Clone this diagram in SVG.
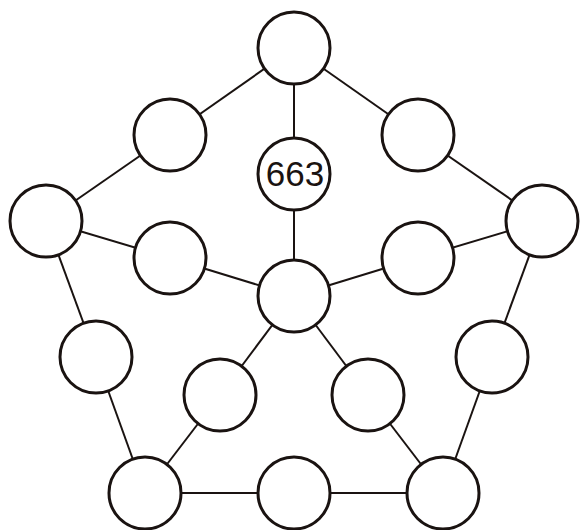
<svg xmlns="http://www.w3.org/2000/svg" width="580" height="530" viewBox="0 0 580 530">
<style>
.n circle{fill:#fff;stroke:#1a1311;stroke-width:3}
#edges line{stroke:#1a1311;stroke-width:2}
text{font-family:"Liberation Sans",Arial,sans-serif;font-size:35px;fill:#1a1311;text-anchor:middle}
</style>
<rect width="580" height="530" fill="#fff"/>
<g id="edges">
<line x1="294" y1="48" x2="170" y2="135"/>
<line x1="294" y1="48" x2="418" y2="135"/>
<line x1="294" y1="48" x2="294" y2="174"/>
<line x1="170" y1="135" x2="46" y2="221"/>
<line x1="418" y1="135" x2="542" y2="221"/>
<line x1="46" y1="221" x2="170" y2="258"/>
<line x1="542" y1="221" x2="418" y2="258"/>
<line x1="170" y1="258" x2="294" y2="296"/>
<line x1="418" y1="258" x2="294" y2="296"/>
<line x1="294" y1="174" x2="294" y2="296"/>
<line x1="46" y1="221" x2="96" y2="357"/>
<line x1="542" y1="221" x2="492" y2="357"/>
<line x1="294" y1="296" x2="220" y2="395"/>
<line x1="294" y1="296" x2="368" y2="395"/>
<line x1="96" y1="357" x2="145" y2="493"/>
<line x1="492" y1="357" x2="443" y2="493"/>
<line x1="220" y1="395" x2="145" y2="493"/>
<line x1="368" y1="395" x2="443" y2="493"/>
<line x1="145" y1="493" x2="294" y2="493"/>
<line x1="294" y1="493" x2="443" y2="493"/>
</g>
<g id="n-top" class="n"><circle cx="294" cy="48" r="36"/></g>
<g id="n-ul" class="n"><circle cx="170" cy="135" r="36"/></g>
<g id="n-ur" class="n"><circle cx="418" cy="135" r="36"/></g>
<g id="n-663" class="n"><circle cx="294" cy="174" r="36"/><text x="295" y="186">663</text></g>
<g id="n-l" class="n"><circle cx="46" cy="221" r="36"/></g>
<g id="n-r" class="n"><circle cx="542" cy="221" r="36"/></g>
<g id="n-il" class="n"><circle cx="170" cy="258" r="36"/></g>
<g id="n-ir" class="n"><circle cx="418" cy="258" r="36"/></g>
<g id="n-c" class="n"><circle cx="294" cy="296" r="36"/></g>
<g id="n-ll" class="n"><circle cx="96" cy="357" r="36"/></g>
<g id="n-lr" class="n"><circle cx="492" cy="357" r="36"/></g>
<g id="n-ill" class="n"><circle cx="220" cy="395" r="36"/></g>
<g id="n-ilr" class="n"><circle cx="368" cy="395" r="36"/></g>
<g id="n-bl" class="n"><circle cx="145" cy="493" r="36"/></g>
<g id="n-bm" class="n"><circle cx="294" cy="493" r="36"/></g>
<g id="n-br" class="n"><circle cx="443" cy="493" r="36"/></g>
</svg>
